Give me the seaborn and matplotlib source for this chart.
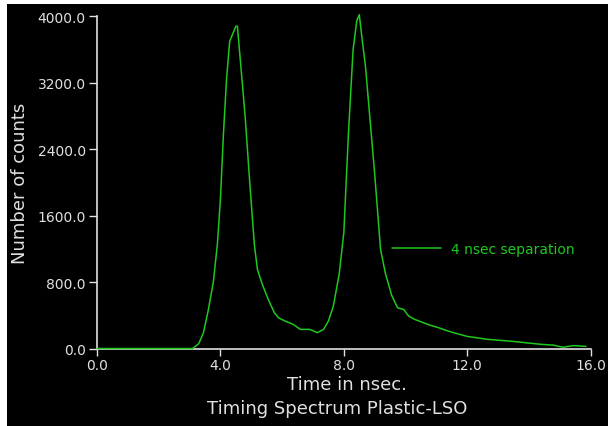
import pandas as pd
import matplotlib
matplotlib.use("Agg")
import matplotlib.pyplot as plt
from matplotlib.patches import Rectangle
import seaborn as sns

# values
time_ns = [0.0, 3.1, 3.3, 3.45, 3.6, 3.77, 3.9, 4.0, 4.1, 4.2, 4.3, 4.4, 4.5, 4.55,
           4.65, 4.8, 4.95, 5.1, 5.2, 5.35, 5.55, 5.75, 5.88, 6.1, 6.36, 6.59, 6.9,
           7.14, 7.34, 7.5, 7.66, 7.85, 8.0, 8.15, 8.3, 8.42, 8.5, 8.6, 8.7, 8.85,
           9.0, 9.19, 9.35, 9.55, 9.74, 9.94, 10.1, 10.3, 10.58, 10.8, 11.07, 11.3,
           11.56, 12.0, 12.3, 12.66, 13.0, 13.5, 14.0, 14.4, 14.8, 15.1, 15.45, 15.85]
counts = [0, 0, 60, 190, 450, 800, 1250, 1800, 2600, 3250, 3700, 3790, 3880, 3880,
          3450, 2800, 2000, 1250, 950, 780, 590, 430, 370, 330, 290, 230, 230,
          190, 230, 330, 510, 900, 1400, 2600, 3600, 3950, 4020, 3700, 3400, 2750,
          2100, 1190, 900, 640, 490, 470, 390, 350, 310, 280, 250, 220,
          190, 145, 130, 110, 100, 85, 65, 50, 40, 15, 35, 25]
series_label = "4 nsec separation"
x_ticks = [0, 4, 8, 12, 16]
y_ticks = [0, 800, 1600, 2400, 3200, 4000]

fg = "#e0e0e0"
green = "#1ec81e"

sns.set_style("ticks")
plt.rcParams["font.family"] = ["DejaVu Sans"]

df = pd.DataFrame({"time": time_ns, "counts": counts})

fig = plt.figure(figsize=(6.09, 4.27), dpi=100, facecolor="white")
fig.patches.append(Rectangle((7 / 609, 0), 601 / 609, 422 / 427,
                             transform=fig.transFigure, facecolor="black",
                             edgecolor="none", zorder=-5))
ax = fig.add_axes([97 / 609, 1 - 349.5 / 427, (590.7 - 97) / 609, (349.5 - 17.3) / 427])
ax.set_facecolor("black")

sns.lineplot(data=df, x="time", y="counts", ax=ax, color=green, linewidth=1.1,
             label=series_label, clip_on=False, zorder=3)

ax.set_xlim(0, 16)
ax.set_ylim(0, 4000)
ax.set_xticks(x_ticks)
ax.set_xticklabels(["{:.1f}".format(v) for v in x_ticks])
ax.set_yticks(y_ticks)
ax.set_yticklabels(["{:.1f}".format(v) for v in y_ticks])

for side in ["top", "right"]:
    ax.spines[side].set_visible(False)
for side in ["left", "bottom"]:
    ax.spines[side].set_color(fg)
    ax.spines[side].set_linewidth(1.2)
ax.tick_params(axis="both", colors=fg, labelsize=10, length=6, width=1.0)
ax.tick_params(axis="y", pad=2)
ax.tick_params(axis="x", length=5, pad=1.5)

ax.set_xlabel("")
ax.set_ylabel("Number of counts", color=fg, fontsize=13, labelpad=6)
fig.text(347 / 609, 1 - 385 / 427, "Time in nsec.", color=fg, fontsize=13,
         ha="center", va="center")
fig.text(337 / 609, 1 - 409 / 427, "Timing Spectrum Plastic-LSO", color=fg,
         fontsize=13, ha="center", va="center")

leg = ax.legend(loc="center left", bbox_to_anchor=(0.598, 0.30), frameon=False,
                borderaxespad=0, borderpad=0, handlelength=3.5, handletextpad=0.7,
                fontsize=10, labelcolor=green)

fig.savefig("out.png", dpi=100, facecolor="white")
plt.close(fig)
